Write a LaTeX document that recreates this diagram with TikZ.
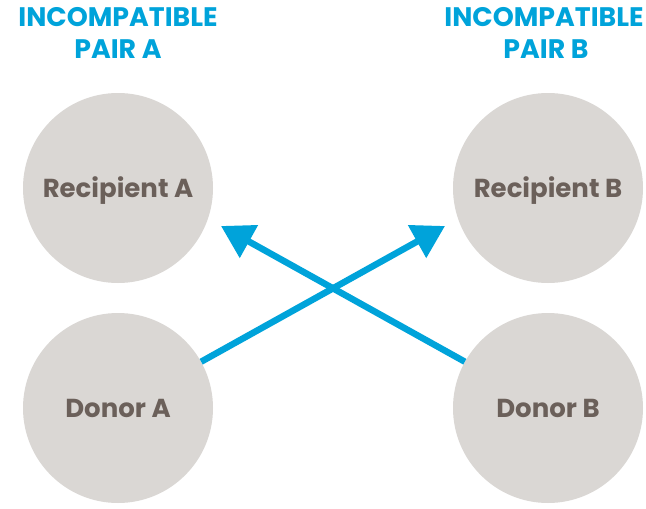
\documentclass[tikz,border=0pt]{standalone}
\usepackage{fontspec}
\setmainfont{Poppins}
\usetikzlibrary{arrows.meta}
\definecolor{pairblue}{HTML}{00A3DA}
\definecolor{disc}{HTML}{DAD7D4}
\definecolor{labelbrown}{HTML}{6B605A}
\tikzset{
  person/.style={circle, fill=disc, draw=none, minimum size=190pt, inner sep=0pt,
    text=labelbrown, font=\bfseries\fontsize{26}{30}\selectfont,
    text height=18pt, text depth=0pt},
  pairtitle/.style={anchor=base, inner sep=0pt, text=pairblue,
    font=\bfseries\fontsize{26.8}{32}\selectfont},
  swap/.style={draw=pairblue, line width=6.5pt,
    -{Triangle[length=32pt,width=36pt]}}
}
\begin{document}
\begin{tikzpicture}[x=1pt,y=-1pt]
  \useasboundingbox (0,0) rectangle (646,509);
  % pair headings
  \node[pairtitle] (tA1) at (118,26) {INCOMPATIBLE};
  \node[pairtitle] (tA2) at (118,58) {PAIR A};
  \node[pairtitle] (tB1) at (544,26) {INCOMPATIBLE};
  \node[pairtitle] (tB2) at (546,58) {PAIR B};
  % people
  \node[person] (RA) at (118,188) {Recipient A};
  \node[person] (DA) at (118,408) {Donor A};
  \node[person] (RB) at (548,188) {Recipient B};
  \node[person] (DB) at (548,408) {Donor B};
  % crossing donations
  \coordinate (toRB) at (445,226);
  \coordinate (toRA) at (221,226);
  \draw[swap] (DA) -- (toRB);
  \draw[swap] (DB) -- (toRA);
\end{tikzpicture}
\end{document}
